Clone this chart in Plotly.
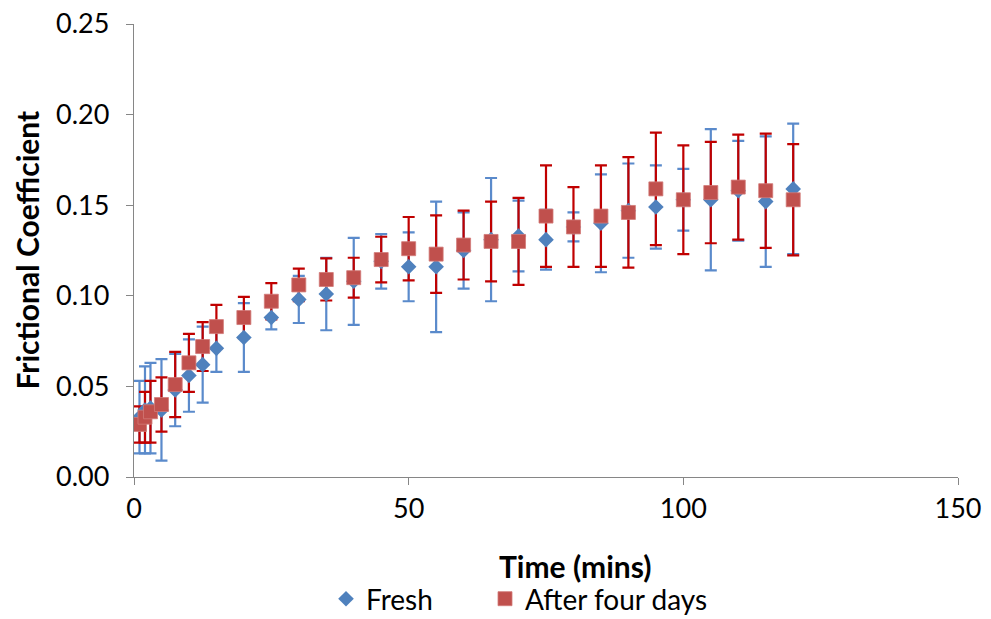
import plotly.graph_objects as go

# Sampling times (minutes)
time_min = [1, 2, 3, 5, 7.5, 10, 12.5, 15, 20, 25, 30, 35, 40, 45, 50, 55,
            60, 65, 70, 75, 80, 85, 90, 95, 100, 105, 110, 115, 120]

# Fresh samples: mean frictional coefficient and standard deviation
fresh_mean = [0.033, 0.037, 0.038, 0.037, 0.048, 0.056, 0.062, 0.071, 0.077, 0.088,
              0.098, 0.101, 0.108, 0.119, 0.116, 0.116, 0.125, 0.131, 0.133, 0.131,
              0.138, 0.140, 0.147, 0.149, 0.153, 0.153, 0.158, 0.152, 0.159]
fresh_sd = [0.020, 0.024, 0.025, 0.028, 0.020, 0.020, 0.021, 0.013, 0.019, 0.0065,
            0.013, 0.020, 0.024, 0.015, 0.019, 0.036, 0.021, 0.034, 0.0195, 0.0165,
            0.008, 0.027, 0.026, 0.023, 0.017, 0.039, 0.0275, 0.036, 0.036]

# Samples measured after four days
aged_mean = [0.029, 0.033, 0.036, 0.040, 0.051, 0.063, 0.072, 0.083, 0.088, 0.097,
             0.106, 0.109, 0.110, 0.120, 0.126, 0.123, 0.128, 0.130, 0.130, 0.144,
             0.138, 0.144, 0.146, 0.159, 0.153, 0.157, 0.160, 0.158, 0.153]
aged_sd = [0.010, 0.014, 0.017, 0.015, 0.018, 0.016, 0.0135, 0.012, 0.0114, 0.010,
           0.009, 0.0116, 0.011, 0.0126, 0.0175, 0.0214, 0.019, 0.022, 0.024, 0.028,
           0.022, 0.028, 0.0305, 0.031, 0.030, 0.028, 0.029, 0.0315, 0.0307]

series_names = ["Fresh", "After four days"]

BLUE = "#4F81BD"
BLUE_ERR = "#5A8ACB"
RED = "#C0504D"
RED_ERR = "#C00000"
FONT = "Lato"

# Plot-area geometry in pixels, used to place titles and legends
L, R, T, B = 134, 33, 24, 142
PW, PH = 991 - L - R, 619 - T - B


def px_x(x):
    return (x - L) / PW


def px_y(y):
    return (619 - B - y) / PH


fig = go.Figure()

# Error bars first, so both series' markers sit on top of every bar
for mean, sd, col in [(fresh_mean, fresh_sd, BLUE_ERR), (aged_mean, aged_sd, RED_ERR)]:
    fig.add_trace(go.Scatter(
        x=time_min, y=mean, mode="markers",
        marker=dict(size=1, color="rgba(0,0,0,0)"),
        error_y=dict(type="data", array=sd, visible=True, color=col,
                     thickness=2.2, width=6),
        showlegend=False, hoverinfo="skip"))

fig.add_trace(go.Scatter(
    x=time_min, y=fresh_mean, mode="markers", name=series_names[0],
    marker=dict(symbol="diamond", size=12, color=BLUE, line=dict(width=0)),
    legend="legend"))
fig.add_trace(go.Scatter(
    x=time_min, y=aged_mean, mode="markers", name=series_names[1],
    marker=dict(symbol="square", size=14, color=RED,
                line=dict(width=0.8, color="#D27A77")),
    legend="legend2"))

axis_common = dict(
    showgrid=False, zeroline=False, showline=True, linecolor="#868686",
    linewidth=1.3, ticks="outside", tickcolor="#868686", ticklen=7, tickwidth=1.3,
    tickfont=dict(family=FONT, size=27, color="#000000"),
)

fig.update_xaxes(range=[0, 150], dtick=50, tick0=0, **axis_common)
fig.update_yaxes(range=[0, 0.25], dtick=0.05, tick0=0, tickformat=".2f",
                 ticklabelstandoff=11, **axis_common)

fig.add_annotation(text="<b>Time (mins)</b>", xref="paper", yref="paper",
                   x=px_x(575), y=px_y(566), xanchor="center", yanchor="middle",
                   showarrow=False, font=dict(family=FONT, size=30, color="#000000"))
fig.add_annotation(text="<b>Frictional Coefficient</b>", xref="paper", yref="paper",
                   x=px_x(26), y=0.5, xanchor="center", yanchor="middle", textangle=-90,
                   showarrow=False, font=dict(family=FONT, size=30, color="#000000"))

legend_common = dict(orientation="h", xanchor="left", yanchor="middle",
                     font=dict(family=FONT, size=28, color="#000000"),
                     bgcolor="rgba(0,0,0,0)", y=px_y(599))

fig.update_layout(
    width=991, height=619,
    margin=dict(l=L, r=R, t=T, b=B, autoexpand=False),
    paper_bgcolor="white", plot_bgcolor="white",
    legend=dict(x=px_x(326), **legend_common),
    legend2=dict(x=px_x(485), **legend_common),
    font=dict(family=FONT),
)

fig.write_html("out.html")
